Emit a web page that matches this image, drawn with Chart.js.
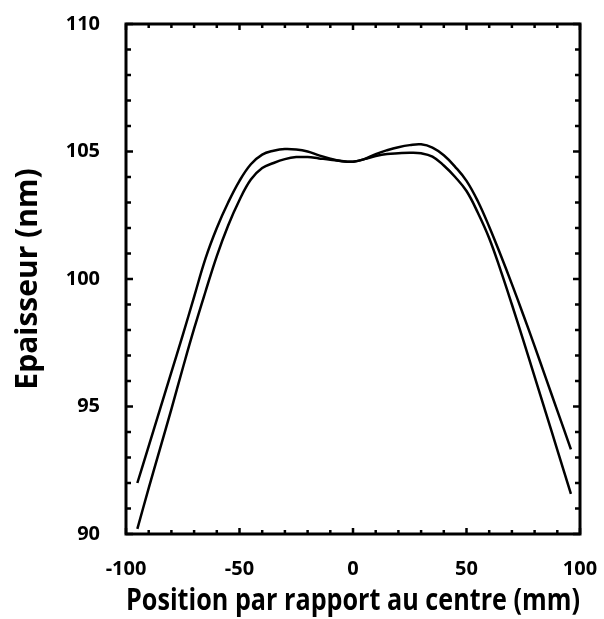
<!DOCTYPE html>
<html>
<head>
<meta charset="utf-8">
<script src="https://cdn.jsdelivr.net/npm/chart.js@4"></script>
<style>
  html, body { margin: 0; padding: 0; background: #fff; }
  #wrap { width: 604px; height: 619px; }
</style>
</head>
<body>
<div id="wrap"><canvas id="chart-epaisseur"></canvas></div>
<script>
// data
var positions = [-95, -90, -85, -80, -75, -70, -65, -60, -55, -50, -45, -40, -35, -30, -25, -20, -15, -10, -5, 0,
                 5, 10, 15, 20, 25, 30, 35, 40, 45, 50, 55, 60, 65, 70, 75, 80, 85, 90, 96];
var epaisseurA = [92.0, 93.45, 94.9, 96.35, 97.8, 99.3, 100.8, 102.0, 103.0, 103.85, 104.5, 104.88, 105.03, 105.1, 105.08, 105.0, 104.85, 104.72, 104.63, 104.6,
                  104.7, 104.9, 105.05, 105.17, 105.25, 105.28, 105.15, 104.85, 104.4, 103.85, 103.05, 102.05, 100.95, 99.8, 98.6, 97.37, 96.1, 94.84, 93.32];
var epaisseurB = [90.2, 91.8, 93.35, 94.9, 96.5, 98.05, 99.5, 100.9, 102.1, 103.1, 103.9, 104.35, 104.55, 104.7, 104.78, 104.78, 104.73, 104.68, 104.62, 104.6,
                  104.7, 104.82, 104.9, 104.93, 104.95, 104.93, 104.8, 104.45, 104.0, 103.45, 102.6, 101.6, 100.35, 99.0, 97.6, 96.17, 94.74, 93.3, 91.57];
var xTicks = [-100, -50, 0, 50, 100];
var yTicks = [90, 95, 100, 105, 110];

var fontFamily = "'Open Sans', Lato, sans-serif";

function toPoints(xs, ys) {
  return xs.map(function (x, i) { return { x: x, y: ys[i] }; });
}

// frame + inward ticks on all four sides
var framePlugin = {
  id: 'frame',
  afterDatasetsDraw: function (chart) {
    var ctx = chart.ctx;
    var a = chart.chartArea;
    var xs = chart.scales.x;
    var ys = chart.scales.y;
    ctx.save();
    ctx.strokeStyle = '#000';
    ctx.lineWidth = 2.5;
    var v, p, len;
    for (v = -100; v <= 100; v += 10) {
      p = xs.getPixelForValue(v);
      len = (v % 50 === 0) ? 6 : 4;
      ctx.beginPath();
      ctx.moveTo(p, a.bottom); ctx.lineTo(p, a.bottom - len);
      ctx.moveTo(p, a.top); ctx.lineTo(p, a.top + len);
      ctx.stroke();
    }
    for (v = 90; v <= 110; v += 1) {
      p = ys.getPixelForValue(v);
      len = (v % 5 === 0) ? 7 : 5;
      ctx.beginPath();
      ctx.moveTo(a.left, p); ctx.lineTo(a.left + len, p);
      ctx.moveTo(a.right, p); ctx.lineTo(a.right - len, p);
      ctx.stroke();
    }
    ctx.lineWidth = 3;
    ctx.strokeRect(a.left, a.top, a.right - a.left, a.bottom - a.top);
    ctx.restore();
  }
};

var lineStyle = {
  showLine: true,
  fill: false,
  borderColor: '#000',
  borderWidth: 2.5,
  pointRadius: 0,
  tension: 0.4
};

var ctx = document.getElementById('chart-epaisseur').getContext('2d');
var chart = new Chart(ctx, {
  type: 'scatter',
  data: {
    datasets: [
      Object.assign({ label: 'A', data: toPoints(positions, epaisseurA) }, lineStyle),
      Object.assign({ label: 'B', data: toPoints(positions, epaisseurB) }, lineStyle)
    ]
  },
  options: {
    responsive: true,
    maintainAspectRatio: false,
    animation: false,
    layout: { padding: { top: 24, right: 24, left: 0, bottom: 0 } },
    plugins: {
      legend: { display: false },
      tooltip: { enabled: false }
    },
    scales: {
      x: {
        type: 'linear',
        min: -100,
        max: 100,
        grid: { display: false, drawTicks: false },
        border: { display: false },
        afterBuildTicks: function (axis) {
          axis.ticks = xTicks.map(function (v) { return { value: v }; });
        },
        afterFit: function (axis) {
          axis.height = 85;
          axis.paddingLeft = 0;
          axis.paddingRight = 0;
        },
        ticks: {
          padding: 23,
          color: '#000',
          font: { family: fontFamily, size: 20, weight: 'bold' }
        },
        title: {
          display: true,
          text: 'Position par rapport au centre (mm)',
          color: '#000',
          font: { family: fontFamily, size: 30, weight: 'bold' },
          padding: { top: 0, bottom: 0 }
        }
      },
      y: {
        type: 'linear',
        min: 90,
        max: 110,
        grid: { display: false, drawTicks: false },
        border: { display: false },
        afterBuildTicks: function (axis) {
          axis.ticks = yTicks.map(function (v) { return { value: v }; });
        },
        afterFit: function (axis) {
          axis.width = 126;
          axis.paddingTop = 0;
          axis.paddingBottom = 0;
        },
        ticks: {
          padding: 26,
          color: '#000',
          font: { family: fontFamily, size: 20, weight: 'bold' }
        },
        title: {
          display: true,
          text: 'Epaisseur (nm)',
          color: '#000',
          font: { family: fontFamily, size: 30, weight: 'bold' },
          padding: { top: 10, bottom: 0 }
        }
      }
    }
  },
  plugins: [framePlugin]
});
</script>
</body>
</html>
